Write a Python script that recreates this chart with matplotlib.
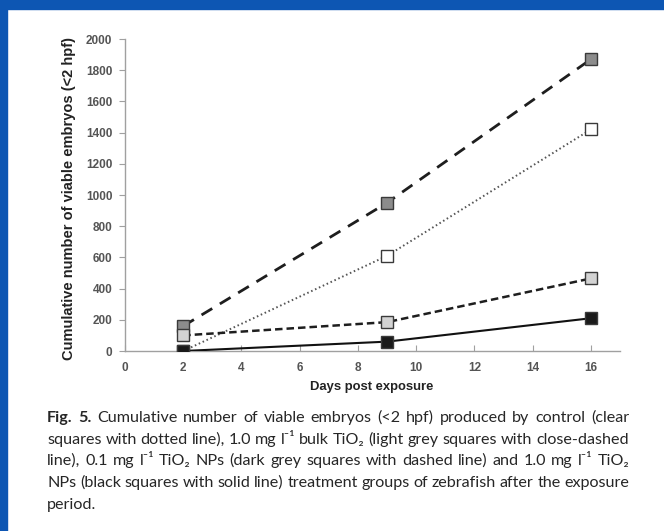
import matplotlib
matplotlib.use("Agg")
import matplotlib.pyplot as plt
from matplotlib.patches import Rectangle

# data
days = [2, 9, 16]
control = [0, 610, 1420]          # clear squares, dotted
bulk_tio2 = [100, 185, 465]        # light grey, close-dashed
nps_01 = [160, 950, 1870]          # dark grey, dashed
nps_10 = [0, 60, 210]              # black, solid

x_ticks = list(range(0, 17, 2))
y_ticks = list(range(0, 2001, 200))

caption_lines = [
    "Fig. 5. Cumulative number of viable embryos (<2 hpf) produced by control (clear",
    "squares with dotted line), 1.0 mg l\u207b\u00b9 bulk TiO\u2082 (light grey squares with close-dashed",
    "line), 0.1 mg l\u207b\u00b9 TiO\u2082 NPs (dark grey squares with dashed line) and 1.0 mg l\u207b\u00b9 TiO\u2082",
    "NPs (black squares with solid line) treatment groups of zebrafish after the exposure",
    "period.",
]

W, H = 664, 531
fig = plt.figure(figsize=(W / 100, H / 100), dpi=100)
fig.patch.set_facecolor("white")

# blue frame at top and left
blue = "#0d56b3"
fig.add_artist(Rectangle((0, 1 - 9 / H), 1, 9 / H, transform=fig.transFigure,
                         color=blue, zorder=0))
fig.add_artist(Rectangle((0, 0), 7 / W, 1, transform=fig.transFigure,
                         color=blue, zorder=0))

ax = fig.add_axes([125 / W, 1 - 351 / H, 495 / W, 312 / H])
ax.set_xlim(0, 17)
ax.set_ylim(0, 2000)

mk = dict(marker="s", markersize=8, markeredgecolor="#3a3a3a", markeredgewidth=1)
ax.plot(days, control, color="#555555", lw=1.4, ls=(0, (0.8, 1.4)),
        markerfacecolor="white", **mk, zorder=3)
ax.plot(days, nps_01, color="#1e1e1e", lw=2.0, ls=(0, (4.5, 3.2)),
        markerfacecolor="#8c8c8c", **mk, zorder=3)
ax.plot(days, bulk_tio2, color="#1e1e1e", lw=1.8, ls=(0, (3, 1.6)),
        markerfacecolor="#d3d3d3", **mk, zorder=4)
ax.plot(days, nps_10, color="#111111", lw=1.5, ls="-",
        markerfacecolor="#1a1a1a", **mk, zorder=5)

for s in ["top", "right"]:
    ax.spines[s].set_visible(False)
for s in ["left", "bottom"]:
    ax.spines[s].set_color("#a0a0a0")
    ax.spines[s].set_linewidth(1)

ax.set_xticks(x_ticks)
ax.set_yticks(y_ticks)
tick_font = dict(family="Liberation Sans", size=8.5, color="#555555", weight="bold")
ax.set_xticklabels([str(v) for v in x_ticks], **tick_font)
ax.set_yticklabels([str(v) for v in y_ticks], **tick_font)
ax.tick_params(axis="x", direction="in", length=4, color="#a0a0a0", pad=8)
ax.tick_params(axis="y", direction="out", length=4, color="#a0a0a0", pad=5)

fig.text(69 / W, 1 - 199 / H, "Cumulative number of viable embryos (<2 hpf)",
         rotation=90, ha="center", va="center", family="Liberation Sans",
         weight="bold", size=10.5, color="#222222")
fig.text(372 / W, 1 - 387 / H, "Days post exposure", ha="center", va="center",
         family="Liberation Sans", weight="bold", size=9.4, color="#222222")

# justified caption; size chosen so the tightest line keeps ~3.5 px word gaps
cap_fam = ["Lato", "DejaVu Sans"]
left, right = 47, 629
baselines = [422, 444, 465, 487, 509]
min_gap = 3.5
fig.canvas.draw()
rend = fig.canvas.get_renderer()


def word_widths(line, size, first):
    out = []
    for j, w in enumerate(line.split(" ")):
        t = fig.text(0, 0, w, family=cap_fam, size=size,
                     weight="bold" if first and j < 2 else "normal")
        out.append(t.get_window_extent(rend).width)
        t.remove()
    return out


cap_size = 99
for i, line in enumerate(caption_lines[:-1]):
    ws = word_widths(line, 10, i == 0)
    s = 10 * (right - left - min_gap * (len(ws) - 1)) / sum(ws)
    cap_size = min(cap_size, s)

for i, (line, yb) in enumerate(zip(caption_lines, baselines)):
    words = line.split(" ")
    arts = []
    for j, w in enumerate(words):
        bold = i == 0 and j < 2
        t = fig.text(0, 1 - yb / H, w, family=cap_fam, size=cap_size,
                     weight="bold" if bold else "normal", color="#262626",
                     ha="left", va="baseline")
        arts.append(t)
    widths = [a.get_window_extent(rend).width for a in arts]
    if i < len(caption_lines) - 1 and len(words) > 1:
        gap = (right - left - sum(widths)) / (len(words) - 1)
    else:
        gap = min_gap
    x = left
    for a, w in zip(arts, widths):
        a.set_x(x / W)
        x += w + gap

fig.savefig("out.png", dpi=100)
